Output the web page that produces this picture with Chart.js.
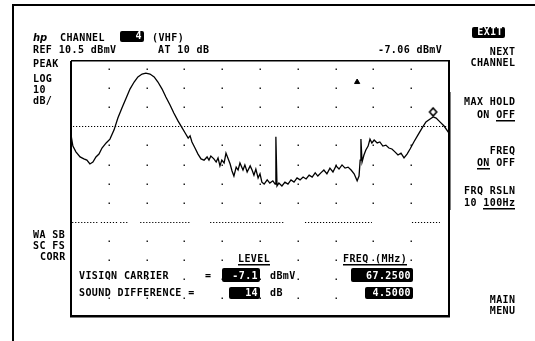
<!DOCTYPE html>
<html>
<head>
<meta charset="utf-8">
<style>
  html, body { margin: 0; padding: 0; background: #fff; }
  #wrap { width: 535px; height: 341px; }
</style>
<script src="https://cdn.jsdelivr.net/npm/chart.js@4.4.1/dist/chart.umd.min.js"></script>
</head>
<body>
<div id="wrap"><canvas id="sa" width="535" height="341"></canvas></div>
<script>
// screen setup: reference level at the top graticule line, 10 dB/div, 8 divisions
const refLevel = 10.5
const dbPerDiv = 10

// swept trace, x in horizontal divisions (0..10), y in dBmV
const traceDiv = [0.00,0.05,0.13,0.24,0.34,0.42,0.50,0.58,0.66,0.74,
  0.82,0.93,1.03,1.14,1.24,1.35,1.46,1.56,1.67,1.77,
  1.88,1.98,2.09,2.20,2.30,2.41,2.51,2.62,2.72,2.83,
  2.94,3.02,3.10,3.15,3.20,3.28,3.36,3.44,3.52,3.60,
  3.65,3.70,3.78,3.84,3.89,3.94,3.99,4.05,4.10,4.15,
  4.21,4.26,4.31,4.37,4.42,4.47,4.55,4.60,4.66,4.74,
  4.79,4.84,4.89,4.95,5.00,5.05,5.11,5.19,5.26,5.34,
  5.40,5.42,5.45,5.50,5.58,5.66,5.74,5.82,5.90,5.98,
  6.06,6.14,6.22,6.30,6.38,6.46,6.53,6.61,6.69,6.77,
  6.85,6.93,7.01,7.09,7.17,7.25,7.33,7.41,7.49,7.57,
  7.62,7.65,7.67,7.70,7.75,7.80,7.86,7.91,7.96,8.02,
  8.10,8.17,8.25,8.33,8.41,8.49,8.57,8.65,8.73,8.81,
  8.89,8.97,9.07,9.18,9.29,9.39,9.50,9.58,9.66,9.76,
  9.87,10.0]
const traceDbmv = [-12.7,-16.2,-18.0,-19.6,-20.2,-20.6,-21.8,-21.2,-19.6,-18.7,
  -16.8,-15.2,-14.0,-11.1,-7.4,-4.2,-1.1,1.7,3.9,5.5,
  6.4,6.7,6.4,5.5,3.9,1.7,-0.8,-3.3,-5.8,-8.3,
  -10.5,-12.1,-13.7,-13.0,-14.9,-16.8,-18.7,-20.2,-20.6,-19.6,
  -20.6,-19.3,-20.2,-21.2,-19.9,-22.4,-20.6,-21.5,-18.4,-19.9,
  -21.8,-24.0,-25.6,-22.8,-23.7,-21.5,-23.7,-22.1,-24.3,-22.4,
  -23.7,-25.3,-23.4,-26.2,-24.9,-27.5,-28.1,-26.8,-27.8,-27.1,
  -28.1,-13.3,-28.7,-27.8,-28.7,-27.5,-28.1,-26.8,-27.5,-26.2,
  -26.8,-25.9,-26.5,-25.3,-25.9,-24.6,-25.6,-24.6,-23.7,-24.9,
  -23.1,-24.3,-22.4,-23.4,-22.1,-23.1,-22.8,-23.7,-24.9,-27.1,
  -25.6,-20.6,-14.0,-21.2,-19.0,-17.4,-16.2,-14.0,-15.2,-14.3,
  -15.2,-14.9,-16.2,-15.9,-16.8,-17.1,-18.0,-19.0,-18.4,-19.9,
  -18.7,-17.1,-14.9,-12.7,-10.5,-8.6,-7.7,-7.06,-7.4,-8.6,
  -9.9,-12.1]

// marker on the vision carrier and the delta marker
const markerDiv = 9.58
const markerDbmv = -7.06
const deltaDiv = 7.57
const deltaDbmv = 3.9

// display line and the lower limit line
const displayLine = -10
const limitLine = -40

// graticule dots
const dotCols = [1, 2, 3, 4, 5, 6, 7, 8, 9]
const dotRows = [8, 2, -4, -16, -22, -28, -34, -46, -52, -58, -64]

// readouts
const channelNo = '4'
const visionLevel = '-7.1'
const soundDiff = '14'
const visionFreq = '67.2500'
const soundFreq = '4.5000'

const FONT = 'bold 10px "DejaVu Sans Mono"'

// diamond marker sits just above the trace point
function diamondImage () {
  const c = document.createElement('canvas')
  c.width = 11; c.height = 22
  const g = c.getContext('2d')
  g.strokeStyle = '#000'; g.lineWidth = 1.6
  g.beginPath()
  g.moveTo(5.5, 2); g.lineTo(9, 6); g.lineTo(5.5, 10); g.lineTo(2, 6); g.closePath()
  g.stroke()
  return c
}

function txt (ctx, s, x, y, align) {
  ctx.save()
  ctx.font = FONT
  ctx.letterSpacing = '0.4px'
  ctx.fillStyle = '#000'
  ctx.textBaseline = 'alphabetic'
  const w = ctx.measureText(s).width - 0.4
  const lx = align === 'right' ? x - w : x
  ctx.textAlign = 'left'
  ctx.fillText(s, lx, y)
  ctx.restore()
  return { x: lx, w: w }
}

function underline (ctx, x, w, y) {
  ctx.fillStyle = '#000'
  ctx.fillRect(Math.round(x), y, Math.round(w), 1.5)
}

function invBox (ctx, x, y, w, h, s) {
  ctx.save()
  ctx.fillStyle = '#000'
  ctx.beginPath()
  ctx.roundRect(x, y, w, h, 2)
  ctx.fill()
  ctx.font = FONT
  ctx.letterSpacing = '0.4px'
  ctx.fillStyle = '#fff'
  ctx.textAlign = 'right'
  ctx.fillText(s, x + w - 2, y + h - 3)
  ctx.restore()
}

const screenPlugin = {
  id: 'screen',
  beforeDatasetsDraw (chart) {
    const ctx = chart.ctx
    const xs = chart.scales.x, ys = chart.scales.y
    const a = chart.chartArea
    ctx.save()
    // graticule dots
    ctx.fillStyle = '#222'
    for (const c of dotCols) {
      for (const r of dotRows) {
        ctx.fillRect(Math.round(xs.getPixelForValue(c)) - 0.5, Math.round(ys.getPixelForValue(r)) - 0.5, 1.5, 1.5)
      }
    }
    // display line
    ctx.strokeStyle = '#000'
    ctx.lineWidth = 1.1
    ctx.setLineDash([1.2, 1.8])
    let y = Math.round(ys.getPixelForValue(displayLine)) + 0.5
    ctx.beginPath(); ctx.moveTo(a.left + 2, y); ctx.lineTo(a.right - 2, y); ctx.stroke()
    // limit line, drawn in broken runs
    y = Math.round(ys.getPixelForValue(limitLine)) + 0.5
    const runs = [[0.03, 0.71], [0.79, 1.24], [1.30, 1.51], [1.83, 3.15], [3.68, 5.66], [6.19, 7.96], [9.02, 9.76]]
    ctx.beginPath()
    for (const r of runs) { ctx.moveTo(xs.getPixelForValue(r[0]), y); ctx.lineTo(xs.getPixelForValue(r[1]), y) }
    ctx.stroke()
    ctx.setLineDash([])
    // graticule frame
    ctx.fillStyle = '#000'
    ctx.fillRect(a.left - 1, a.top, 2, a.bottom - a.top + 1)
    ctx.fillRect(a.left, a.top - 1, a.right - a.left, 1.5)
    ctx.fillRect(a.right - 1, a.top - 1, 2, a.bottom - a.top + 2)
    ctx.fillRect(a.right, 92, 1.5, 118)
    ctx.fillRect(a.left - 1, a.bottom - 1, a.right - a.left + 2, 2.5)
    // outer bezel
    ctx.fillRect(12, 4, 523, 2)
    ctx.fillRect(12, 4, 2, 337)
    ctx.restore()
  },
  afterDraw (chart) {
    const ctx = chart.ctx
    ctx.save()
    // header
    ctx.font = 'italic bold 10px "DejaVu Sans"'
    ctx.fillStyle = '#000'
    ctx.fillText('hp', 33, 41)
    txt(ctx, 'CHANNEL', 60, 41)
    invBox(ctx, 120, 31, 24, 11, channelNo)
    txt(ctx, '(VHF)', 152, 41)
    txt(ctx, 'REF 10.5 dBmV', 33, 53)
    txt(ctx, 'AT 10 dB', 158, 53)
    txt(ctx, markerDbmv.toFixed(2) + ' dBmV', 378, 53)

    // left annotations
    txt(ctx, 'PEAK', 33, 67)
    txt(ctx, 'LOG', 33, 82)
    txt(ctx, '10', 33, 93)
    txt(ctx, 'dB/', 33, 104)
    txt(ctx, 'WA SB', 33, 238)
    txt(ctx, 'SC FS', 33, 249)
    txt(ctx, 'CORR', 40, 260)

    // softkeys
    invBox(ctx, 472, 27, 33, 11, 'EXIT')
    txt(ctx, 'NEXT', 515, 55, 'right')
    txt(ctx, 'CHANNEL', 515, 66, 'right')
    txt(ctx, 'MAX HOLD', 515, 105, 'right')
    let t = txt(ctx, 'ON OFF', 515, 118, 'right')
    underline(ctx, t.x + t.w - 19, 19, 120)
    txt(ctx, 'FREQ', 515, 154, 'right')
    t = txt(ctx, 'ON OFF', 515, 166, 'right')
    underline(ctx, t.x, 13, 168)
    txt(ctx, 'FRQ RSLN', 515, 194, 'right')
    t = txt(ctx, '10 100Hz', 515, 206, 'right')
    underline(ctx, t.x + t.w - 32, 32, 208)
    txt(ctx, 'MAIN', 515, 303, 'right')
    txt(ctx, 'MENU', 515, 314, 'right')

    // measurement table
    t = txt(ctx, 'LEVEL', 238, 262)
    underline(ctx, t.x, t.w, 264)
    t = txt(ctx, 'FREQ (MHz)', 343, 262)
    underline(ctx, t.x, t.w, 264)
    txt(ctx, 'VISION CARRIER', 79, 279)
    txt(ctx, '=', 205, 279)
    invBox(ctx, 222, 268, 38, 14, visionLevel)
    txt(ctx, 'dBmV', 270, 279)
    invBox(ctx, 351, 268, 62, 14, visionFreq)
    txt(ctx, 'SOUND DIFFERENCE =', 79, 296)
    invBox(ctx, 229, 287, 31, 12, soundDiff)
    txt(ctx, 'dB', 270, 296)
    invBox(ctx, 365, 287, 48, 12, soundFreq)
    ctx.restore()
  }
}

new Chart(document.getElementById('sa').getContext('2d'), {
  type: 'scatter',
  data: {
    datasets: [
      {
        label: 'trace',
        data: traceDiv.map((d, i) => ({ x: d, y: traceDbmv[i] })),
        showLine: true,
        borderColor: '#000',
        borderWidth: 1.3,
        pointRadius: 0,
        tension: 0
      }, {
        label: 'marker',
        data: [{ x: markerDiv, y: markerDbmv }],
        pointStyle: diamondImage(),
        pointRadius: 6
      }, {
        label: 'delta',
        data: [{ x: deltaDiv, y: deltaDbmv }],
        pointStyle: 'triangle',
        pointRadius: 3,
        backgroundColor: '#000',
        borderColor: '#000',
        borderWidth: 1
      }
    ]
  },
  options: {
    responsive: false,
    devicePixelRatio: 1,
    animation: false,
    layout: { padding: { left: 71, right: 86, top: 61, bottom: 25 } },
    plugins: { legend: { display: false }, tooltip: { enabled: false }, title: { display: false } },
    scales: {
      x: { type: 'linear', min: 0, max: 10, display: false },
      y: { type: 'linear', min: refLevel - 8 * dbPerDiv, max: refLevel, display: false }
    }
  },
  plugins: [screenPlugin]
})
</script>
</body>
</html>
